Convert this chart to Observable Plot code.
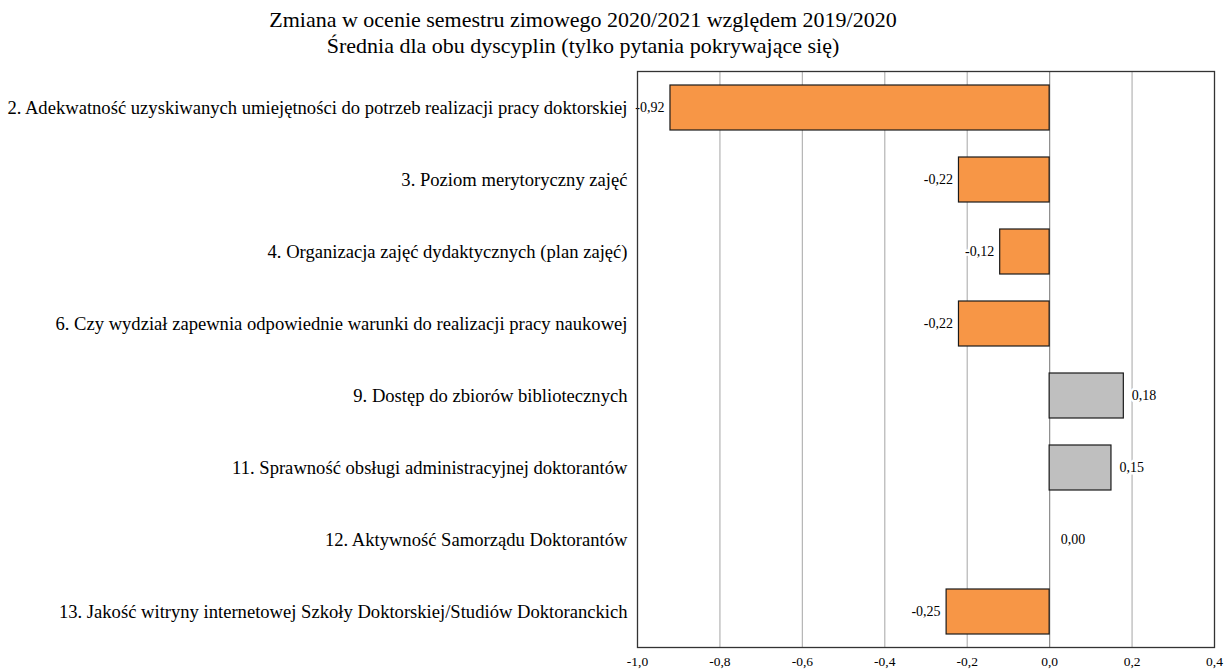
<!DOCTYPE html>
<html>
<head>
<meta charset="utf-8">
<script src="https://cdn.jsdelivr.net/npm/d3@7"></script>
<script src="https://cdn.jsdelivr.net/npm/@observablehq/plot@0.6"></script>
<style>
  html, body { margin: 0; padding: 0; background: #fff; }
  #title { width: 1166px; height: 60px; text-align: center; font-family: "Liberation Serif", "Times New Roman", serif; font-size: 22px; line-height: 26px; padding-top: 7px; box-sizing: border-box; color: #000; }
</style>
</head>
<body>
<div id="title">Zmiana w ocenie semestru zimowego 2020/2021 względem 2019/2020<br>Średnia dla obu dyscyplin (tylko pytania pokrywające się)</div>
<div id="chart"></div>
<script>
const categories = [
  "2. Adekwatność uzyskiwanych umiejętności do potrzeb realizacji pracy doktorskiej",
  "3. Poziom merytoryczny zajęć",
  "4. Organizacja zajęć dydaktycznych (plan zajęć)",
  "6. Czy wydział zapewnia odpowiednie warunki do realizacji pracy naukowej",
  "9. Dostęp do zbiorów bibliotecznych",
  "11. Sprawność obsługi administracyjnej doktorantów",
  "12. Aktywność Samorządu Doktorantów",
  "13. Jakość witryny internetowej Szkoły Doktorskiej/Studiów Doktoranckich"
];
const values = [-0.92, -0.22, -0.12, -0.22, 0.18, 0.15, 0.00, -0.25];
const xTicks = [-1.0, -0.8, -0.6, -0.4, -0.2, 0.0, 0.2, 0.4];

const data = categories.map((c, i) => ({category: c, value: values[i]}));
const neg = data.filter(d => d.value < 0);
const pos = data.filter(d => d.value > 0);
const zero = data.filter(d => d.value === 0);
const fmt2 = v => d3.format(".2f")(v).replace(".", ",").replace("−", "-");
const fmt1 = v => d3.format(".1f")(v).replace(".", ",").replace("−", "-");
const font = "Liberation Serif, Times New Roman, serif";
const labelStyle = {fontSize: 14, fill: "#000", stroke: "#fff", strokeWidth: 5, paintOrder: "stroke"};

const chart = Plot.plot({
  width: 1224,
  height: 610,
  marginLeft: 637,
  marginRight: 10,
  marginTop: 11,
  marginBottom: 23,
  style: {fontFamily: font, color: "#000", background: "#fff"},
  x: {domain: [-1, 0.4], label: null},
  y: {domain: categories, paddingInner: 0.375, paddingOuter: 0.1875, label: null},
  marks: [
    Plot.ruleX(xTicks.filter(t => t !== 0 && t !== -1 && t !== 0.4), {stroke: "#b4b4b4", strokeWidth: 1.2}),
    Plot.ruleX([0], {stroke: "#8c8c8c", strokeWidth: 1.2}),
    Plot.barX(data, {
      y: "category", x1: 0, x2: "value",
      fill: d => d.value < 0 ? "#F79646" : "#BFBFBF",
      stroke: "#1a1a1a", strokeWidth: 1.2
    }),
    Plot.text(neg, {
      y: "category", x: "value", text: d => fmt2(d.value),
      textAnchor: "end", dx: -6, ...labelStyle
    }),
    Plot.text(pos, {
      y: "category", x: "value", text: d => fmt2(d.value),
      textAnchor: "start", dx: 8, ...labelStyle
    }),
    Plot.text(zero, {
      y: "category", x: "value", text: d => fmt2(d.value),
      textAnchor: "start", dx: 11, ...labelStyle
    }),
    Plot.frame({stroke: "#333", strokeWidth: 1.3}),
    Plot.axisX({ticks: xTicks, tickFormat: fmt1, tickSize: 0, tickPadding: 9, fontSize: 13.5, label: null}),
    Plot.axisY({tickSize: 0, tickPadding: 10, fontSize: 18.6, label: null})
  ]
});
document.getElementById("chart").appendChild(chart);
</script>
</body>
</html>
